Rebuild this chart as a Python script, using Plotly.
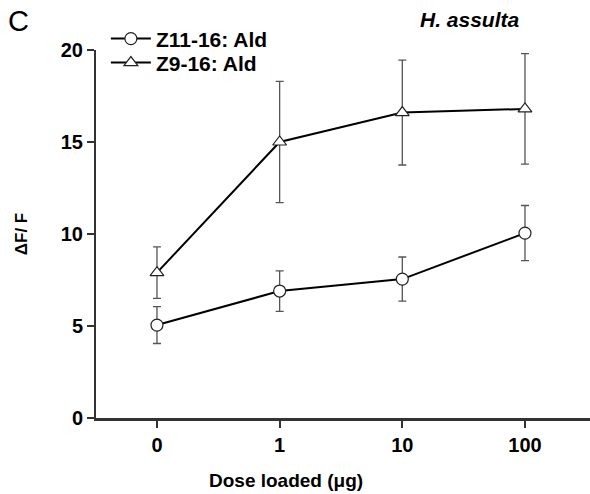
import plotly.graph_objects as go

doses = ["0", "1", "10", "100"]
x_pos = [0, 1, 2, 3]
z11_mean = [5.05, 6.9, 7.55, 10.05]
z11_err = [1.0, 1.1, 1.2, 1.5]
z9_mean = [7.9, 15.0, 16.6, 16.8]
z9_err = [1.4, 3.3, 2.85, 3.0]

FONT = "Liberation Sans, Arial, sans-serif"

fig = go.Figure()
fig.add_trace(go.Scatter(
    x=x_pos, y=z11_mean, name="Z11-16: Ald", mode="lines+markers", legend="legend",
    line=dict(color="black", width=2),
    marker=dict(symbol="circle", size=12, color="white", line=dict(color="#222", width=1.2)),
    error_y=dict(type="data", array=z11_err, visible=True, color="#555", thickness=1.3, width=4),
))
fig.add_trace(go.Scatter(
    x=x_pos, y=z9_mean, name="Z9-16: Ald", mode="lines+markers", legend="legend2",
    line=dict(color="black", width=2),
    marker=dict(symbol="triangle-up", size=12, color="white", line=dict(color="#222", width=1.2)),
    error_y=dict(type="data", array=z9_err, visible=True, color="#555", thickness=1.3, width=4),
))

leg_common = dict(xanchor="left", yanchor="middle", bgcolor="rgba(0,0,0,0)",
                  font=dict(size=21, family=FONT, weight="bold"), itemwidth=40)

fig.update_layout(
    width=590, height=494,
    margin=dict(l=96, r=0, t=50, b=76),
    paper_bgcolor="white", plot_bgcolor="white",
    font=dict(family=FONT, color="black"),
    showlegend=True,
    legend=dict(x=0.02, y=1.030, **leg_common),
    legend2=dict(x=0.02, y=0.965, **leg_common),
    xaxis=dict(
        range=[-0.497, 3.53], tickvals=x_pos, ticktext=doses,
        showgrid=False, zeroline=False,
        showline=True, linecolor="#333", linewidth=2.5,
        ticks="outside", ticklen=7, tickwidth=1.5, tickcolor="#333",
        tickfont=dict(size=20, family=FONT, weight="bold"),
    ),
    yaxis=dict(
        range=[0, 20], tickvals=[0, 5, 10, 15, 20],
        showgrid=False, zeroline=False,
        showline=True, linecolor="#333", linewidth=2,
        ticks="outside", ticklen=7, tickwidth=1.5, tickcolor="#333",
        tickfont=dict(size=20, family=FONT, weight="bold"),
        title=dict(text="ΔF/ F", font=dict(size=17, family=FONT, weight="bold"), standoff=29),
    ),
    annotations=[
        dict(text="C", x=(6 - 96) / 494, y=(418 - 3) / 368, xref="paper", yref="paper",
             showarrow=False, font=dict(size=29, family=FONT), xanchor="left", yanchor="top"),
        dict(text="<b><i>H. assulta</i></b>", x=(470 - 96) / 494, y=(418 - 20) / 368,
             xref="paper", yref="paper", showarrow=False, font=dict(size=21, family=FONT),
             xanchor="center", yanchor="middle"),
        dict(text="<b>Dose loaded (μg)</b>", x=(286 - 96) / 494, y=(418 - 480) / 368,
             xref="paper", yref="paper", showarrow=False, font=dict(size=19, family=FONT),
             xanchor="center", yanchor="middle"),
    ],
)

fig.write_html("out.html", post_script="document.body.style.margin='0';",
               config={"displayModeBar": False})
